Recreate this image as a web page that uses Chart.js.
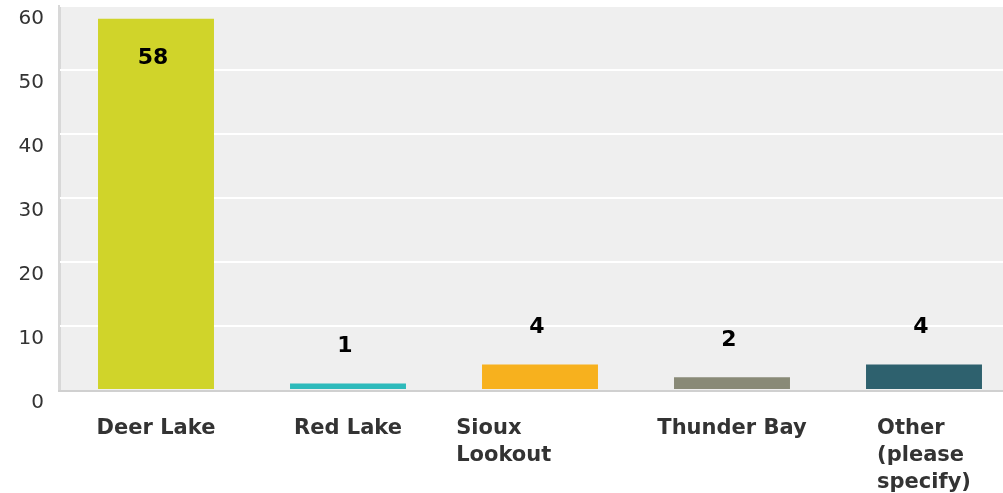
<!DOCTYPE html>
<html>
<head>
<meta charset="utf-8">
<script src="https://cdn.jsdelivr.net/npm/chart.js@4.4.0/dist/chart.umd.min.js"></script>
<style>
    html, body { margin: 0; padding: 0; background: #fff; overflow: hidden; }
    #outer-chart-0 { width: 1020px; height: 493px; }
</style>
</head>
<body>
<div id="outer-chart-0"><canvas id="chart0" width="1020" height="493"></canvas></div>
<script>
// chart data
let categories = [['Deer Lake'], ['Red Lake'], ['Sioux', 'Lookout'], ['Thunder Bay'], ['Other', '(please', 'specify)']];
let counts = [58, 1, 4, 2, 4];
let barColors = ['#d0d42a', '#2dbabb', '#f7b11e', '#898a77', '#2e616e'];
let yTicks = [0, 10, 20, 30, 40, 50, 60];

let chart0 = document.getElementById('chart0');
let fontFamily = '"DejaVu Sans", Verdana, sans-serif';

// grey plot background + left/bottom border
let plotBackground = {
    id: 'plotBackground',
    beforeDraw(chart) {
        let ctx = chart.ctx;
        let area = chart.chartArea;
        ctx.save();
        ctx.fillStyle = '#efefef';
        ctx.fillRect(area.left - 2, area.top - 1, chart.width - area.left + 2, area.bottom - area.top + 1);
        ctx.fillStyle = '#d8d8d8';
        ctx.fillRect(area.left - 2, area.top - 1, 3, area.bottom - area.top + 2);
        ctx.restore();
    },
    beforeDatasetsDraw(chart) {
        let ctx = chart.ctx;
        let area = chart.chartArea;
        ctx.save();
        ctx.fillStyle = '#d0d0d0';
        ctx.fillRect(area.left - 2, area.bottom, chart.width, 2);
        ctx.restore();
    }
};

// value labels above the bars (inside when no room)
let valueLabels = {
    id: 'valueLabels',
    afterDatasetsDraw(chart) {
        let ctx = chart.ctx;
        let area = chart.chartArea;
        let meta = chart.getDatasetMeta(0);
        ctx.save();
        ctx.font = 'bold 22px ' + fontFamily;
        ctx.fillStyle = '#000';
        ctx.textAlign = 'center';
        ctx.textBaseline = 'middle';
        meta.data.forEach((bar, i) => {
            let y = bar.y - 37;
            if (y < area.top + 20)
                y = bar.y + 39;
            ctx.fillText(String(counts[i]), bar.x - 3, y);
        });
        ctx.restore();
    }
};

// category labels, wrapped lines left aligned
let categoryLabels = {
    id: 'categoryLabels',
    afterDraw(chart) {
        let ctx = chart.ctx;
        let xScale = chart.scales.x;
        let area = chart.chartArea;
        ctx.save();
        ctx.font = 'bold 21px ' + fontFamily;
        ctx.fillStyle = '#333';
        ctx.textAlign = 'left';
        ctx.textBaseline = 'middle';
        categories.forEach((lines, i) => {
            let center = xScale.getPixelForTick(i);
            let full = ctx.measureText(lines.join(' ')).width;
            let widest = Math.max(...lines.map(l => ctx.measureText(l).width));
            // short labels are centred as one line, long ones on their widest line
            let block = full <= 170 ? full : widest;
            let left = center - block / 2;
            lines.forEach((line, j) => {
                ctx.fillText(line, left, area.bottom + 39 + j * 27);
            });
        });
        ctx.restore();
    }
};

new Chart(chart0, {
    type: 'bar',
    data: {
        labels: categories,
        datasets: [{
            data: counts,
            backgroundColor: barColors,
            barPercentage: 1,
            categoryPercentage: 0.604
        }]
    },
    options: {
        responsive: false,
        animation: false,
        layout: {
            padding: { top: 6, left: 0, right: 0, bottom: 0 }
        },
        plugins: {
            legend: { display: false },
            tooltip: { enabled: false }
        },
        scales: {
            x: {
                grid: { display: false },
                border: { display: false },
                ticks: { display: false },
                afterFit: scale => { scale.height = 103; }
            },
            y: {
                min: yTicks[0],
                max: yTicks[yTicks.length - 1],
                border: { display: false },
                grid: {
                    color: ctx => ctx.tick && ctx.tick.value === 0 ? 'rgba(0,0,0,0)' : '#ffffff',
                    lineWidth: 2,
                    drawTicks: false
                },
                ticks: {
                    stepSize: yTicks[1] - yTicks[0],
                    color: '#333',
                    padding: 16,
                    labelOffset: 13,
                    font: { family: fontFamily, size: 20 }
                },
                afterFit: scale => {
                    scale.width = 60;
                    scale.paddingTop = 0;
                    scale.paddingBottom = 0;
                }
            }
        }
    },
    plugins: [plotBackground, valueLabels, categoryLabels]
});
</script>
</body>
</html>
